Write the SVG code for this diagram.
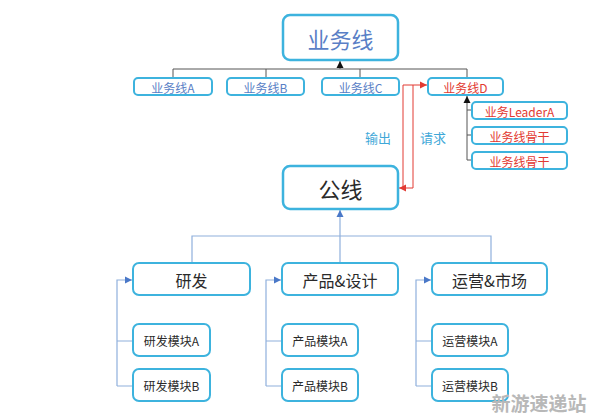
<svg xmlns="http://www.w3.org/2000/svg" width="596" height="420" viewBox="0 0 596 420">
<defs>
<style>
.box{fill:#fff;stroke:#3db3de;stroke-width:2;}
.big{stroke-width:2.5;}
.t{font-family:"Noto Sans CJK SC","Noto Sans",sans-serif;text-anchor:middle;dominant-baseline:central;}
.blue{fill:#5a7fc6;}
.red{fill:#e23a32;}
.dark{fill:#2a2a2a;}
.lbl{fill:#3fa8d8;}
.cg{fill:none;stroke:#555;stroke-width:1;}
.cb{fill:none;stroke:#8fb0dc;stroke-width:1.2;}
.cr{fill:none;stroke:#e23a32;stroke-width:1;}
</style>
<marker id="ak" markerWidth="8" markerHeight="8" refX="7" refY="4" orient="auto" markerUnits="userSpaceOnUse"><path d="M0,0.5 L7,4 L0,7.5 Z" fill="#111"/></marker>
<marker id="ab" markerWidth="8" markerHeight="8" refX="7" refY="4" orient="auto" markerUnits="userSpaceOnUse"><path d="M0,0.5 L7,4 L0,7.5 Z" fill="#4a78c8"/></marker>
<marker id="ar" markerWidth="8" markerHeight="8" refX="7" refY="4" orient="auto" markerUnits="userSpaceOnUse"><path d="M0,0.5 L7,4 L0,7.5 Z" fill="#e23a32"/></marker>
</defs>
<rect width="596" height="420" fill="#fff"/>
<g id="connectors">
<path class="cg" d="M173,78 V69 H467 V78 M266,69 V78 M360,69 V78"/>
<path class="cg" d="M340,69 V61" marker-end="url(#ak)"/>
<path class="cg" d="M467,160 V96" marker-end="url(#ak)"/>
<path class="cg" d="M467,110 H472 M467,135 H472 M467,160 H472"/>
<path class="cr" d="M413,85 V188 H399" marker-end="url(#ar)"/>
<path class="cr" d="M403,188 V85 H427" marker-end="url(#ar)"/>
<path class="cb" d="M192,263 V236 H491 V263 M340,236 V263"/>
<path class="cb" d="M340,236 V210" marker-end="url(#ab)"/>
<path class="cb" d="M117,386 V280 H132" marker-end="url(#ab)"/>
<path class="cb" d="M117,341 H133 M117,386 H133"/>
<path class="cb" d="M266,386 V280 H281" marker-end="url(#ab)"/>
<path class="cb" d="M266,341 H282 M266,386 H282"/>
<path class="cb" d="M416,386 V280 H431" marker-end="url(#ab)"/>
<path class="cb" d="M416,341 H432 M416,386 H432"/>
</g>
<g id="n-yewuxian"><rect class="box big" x="283" y="15" width="115" height="45" rx="7"/><text class="t blue" x="340.5" y="38" font-size="22">业务线</text></g>
<g id="n-a"><rect class="box" x="134" y="78" width="78" height="17" rx="4"/><text class="t blue" x="173" y="87" font-size="12">业务线A</text></g>
<g id="n-b"><rect class="box" x="227" y="78" width="77" height="17" rx="4"/><text class="t blue" x="265.5" y="87" font-size="12">业务线B</text></g>
<g id="n-c"><rect class="box" x="322" y="78" width="77" height="17" rx="4"/><text class="t blue" x="360.5" y="87" font-size="12">业务线C</text></g>
<g id="n-d"><rect class="box" x="428" y="78" width="75" height="17" rx="4"/><text class="t red" x="465.5" y="87" font-size="12">业务线D</text></g>
<g id="n-leader"><rect class="box" x="472" y="102" width="95" height="17" rx="4"/><text class="t red" x="519.5" y="111" font-size="12">业务LeaderA</text></g>
<g id="n-gugan1"><rect class="box" x="472" y="127" width="95" height="17" rx="4"/><text class="t red" x="519.5" y="136" font-size="12">业务线骨干</text></g>
<g id="n-gugan2"><rect class="box" x="472" y="152" width="95" height="17" rx="4"/><text class="t red" x="519.5" y="161" font-size="12">业务线骨干</text></g>
<g id="labels"><text class="t lbl" x="378" y="137" font-size="13">输出</text><text class="t lbl" x="433" y="137" font-size="13">请求</text></g>
<g id="n-gongxian"><rect class="box big" x="283" y="166" width="115" height="43" rx="7"/><text class="t dark" x="340.5" y="188" font-size="22">公线</text></g>
<g id="n-yanfa"><rect class="box" x="133" y="263" width="117" height="32" rx="6"/><text class="t dark" x="191.5" y="279.5" font-size="16">研发</text></g>
<g id="n-chanpin"><rect class="box" x="282" y="263" width="116" height="32" rx="6"/><text class="t dark" x="340" y="279.5" font-size="16">产品&amp;设计</text></g>
<g id="n-yunying"><rect class="box" x="432" y="263" width="115" height="32" rx="6"/><text class="t dark" x="489.5" y="279.5" font-size="16">运营&amp;市场</text></g>
<g id="n-yfa"><rect class="box" x="133" y="324" width="77" height="32" rx="6"/><text class="t dark" x="171.5" y="340.5" font-size="12">研发模块A</text></g>
<g id="n-yfb"><rect class="box" x="133" y="369" width="77" height="32" rx="6"/><text class="t dark" x="171.5" y="385.5" font-size="12">研发模块B</text></g>
<g id="n-cpa"><rect class="box" x="282" y="324" width="76" height="32" rx="6"/><text class="t dark" x="320" y="340.5" font-size="12">产品模块A</text></g>
<g id="n-cpb"><rect class="box" x="282" y="369" width="76" height="32" rx="6"/><text class="t dark" x="320" y="385.5" font-size="12">产品模块B</text></g>
<g id="n-yya"><rect class="box" x="432" y="324" width="76" height="32" rx="6"/><text class="t dark" x="470" y="340.5" font-size="12">运营模块A</text></g>
<g id="n-yyb"><rect class="box" x="432" y="369" width="76" height="32" rx="6"/><text class="t dark" x="470" y="385.5" font-size="12">运营模块B</text></g>
<text x="539" y="411" font-family="Noto Sans CJK SC,sans-serif" font-size="19" font-weight="bold" fill="#b8b8b8" text-anchor="middle">新游速递站</text>
</svg>
